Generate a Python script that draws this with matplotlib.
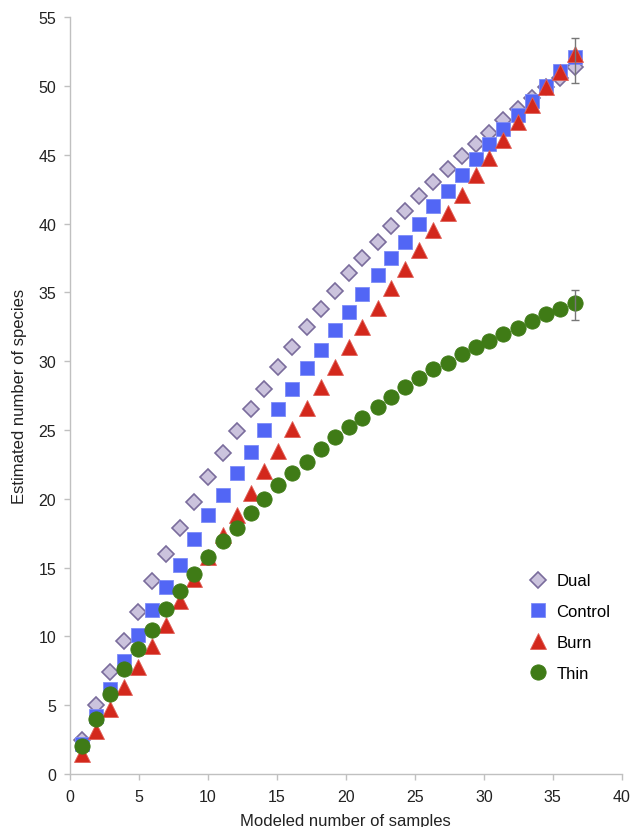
import matplotlib
matplotlib.use("Agg")
import matplotlib.pyplot as plt

plt.rcParams["font.family"] = ["Liberation Sans", "DejaVu Sans"]

# modeled number of samples (as placed on the axis)
samples = [0.85, 1.87, 2.9, 3.9, 4.9, 5.96, 6.98, 8.0, 9.0, 10.0, 11.1, 12.1,
           13.1, 14.1, 15.1, 16.1, 17.2, 18.2, 19.2, 20.2, 21.2, 22.3, 23.3, 24.3,
           25.3, 26.3, 27.4, 28.4, 29.4, 30.4, 31.4, 32.5, 33.5, 34.5, 35.5, 36.6]

dual = [2.5, 5.0, 7.4, 9.7, 11.8, 14.0, 16.0, 17.9, 19.8, 21.6, 23.3, 24.9,
        26.5, 28.0, 29.6, 31.0, 32.5, 33.8, 35.1, 36.4, 37.5, 38.7, 39.8, 40.9,
        42.0, 43.0, 44.0, 44.9, 45.8, 46.6, 47.5, 48.3, 49.1, 49.9, 50.6, 51.4]
control = [2.2, 4.2, 6.2, 8.2, 10.1, 11.9, 13.6, 15.2, 17.1, 18.8, 20.3, 21.9,
           23.4, 25.0, 26.5, 28.0, 29.5, 30.8, 32.3, 33.6, 34.9, 36.3, 37.5, 38.7,
           40.0, 41.3, 42.4, 43.5, 44.7, 45.8, 46.9, 47.9, 48.9, 50.0, 51.1, 52.1]
burn = [1.45, 3.1, 4.7, 6.3, 7.8, 9.3, 10.8, 12.6, 14.2, 15.8, 17.4, 18.8,
        20.4, 22.0, 23.5, 25.1, 26.6, 28.1, 29.6, 31.0, 32.5, 33.9, 35.3, 36.7,
        38.1, 39.5, 40.8, 42.1, 43.5, 44.8, 46.1, 47.4, 48.6, 49.9, 51.0, 52.3]
thin = [2.0, 4.0, 5.8, 7.6, 9.1, 10.5, 12.0, 13.3, 14.5, 15.8, 16.9, 17.9,
        19.0, 20.0, 21.0, 21.9, 22.7, 23.6, 24.5, 25.2, 25.9, 26.7, 27.4, 28.1,
        28.8, 29.4, 29.9, 30.5, 31.0, 31.5, 32.0, 32.4, 32.9, 33.4, 33.8, 34.2]

# error bars shown on the final point only
err_top = [51.85, 34.1]
err_size = [1.65, 1.1]

fig = plt.figure(figsize=(6.3, 8.28), dpi=100)
ax = fig.add_axes([0.111, 0.064, 0.876, 0.914])

ax.plot(samples, dual, "D", ms=8.5, mfc="#cbc3dd", mec="#7a6c9c", mew=1.2,
        ls="none", label="Dual")
ax.plot(samples, control, "s", ms=10.5, mfc="#5266f5", mec="#7e8cf7", mew=0.6,
        ls="none", label="Control")
ax.plot(samples, burn, "^", ms=11, mfc="#d3281c", mec="#e06058", mew=0.6,
        ls="none", label="Burn")
ax.plot(samples, thin, "o", ms=11, mfc="#3f7b16", mec="#3f7b16", mew=0.6,
        ls="none", label="Thin")

ax.errorbar([samples[-1]] * 2, err_top, yerr=err_size, fmt="none",
            ecolor="#777777", elinewidth=1, capsize=3, capthick=1)

ax.set_xlim(0, 40)
ax.set_ylim(0, 55)
ax.set_xticks(range(0, 41, 5))
ax.set_yticks(range(0, 56, 5))

for side in ["top", "right"]:
    ax.spines[side].set_visible(False)
for side in ["left", "bottom"]:
    ax.spines[side].set_color("#c0c0c0")
    ax.spines[side].set_linewidth(1)

ax.tick_params(axis="both", colors="#c0c0c0", labelcolor="#222222",
               labelsize=11.5, length=4, width=1)
ax.tick_params(axis="x", pad=7)
ax.tick_params(axis="y", pad=6)

ax.set_xlabel("Modeled number of samples", fontsize=12, color="#222222", labelpad=6)
ax.set_ylabel("Estimated number of species", fontsize=12, color="#222222", labelpad=8)

ax.legend(loc="upper left", bbox_to_anchor=(0.833, 0.265), frameon=False,
          fontsize=12, handlelength=1.0, handletextpad=0.6, labelspacing=0.95,
          numpoints=1, borderaxespad=0, borderpad=0)

fig.savefig("out.png", dpi=100)
